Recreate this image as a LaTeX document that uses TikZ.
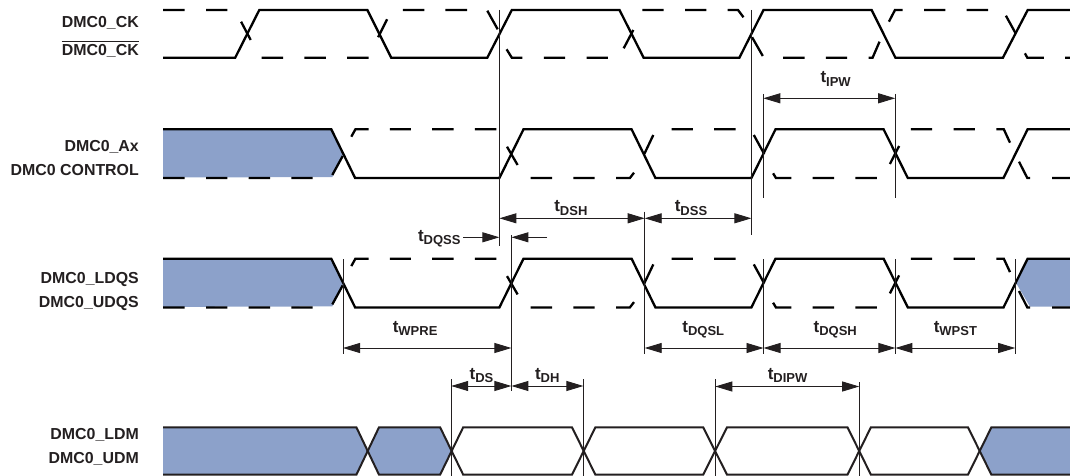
\documentclass[tikz,border=0pt]{standalone}
\usepackage{fontspec}
\setmainfont{Liberation Sans}
\usetikzlibrary{arrows.meta}
\definecolor{ink}{HTML}{231F20}
\definecolor{sigblue}{HTML}{8CA1CA}
\tikzset{
  sig/.style={line width=2.3pt,draw=black,line join=miter},
  dmsig/.style={line width=2pt,draw=ink,line join=miter},
  blue fill/.style={fill=sigblue,draw=none},
  tickline/.style={line width=0.9pt,draw=ink},
  dimline/.style={line width=0.9pt,draw=ink,{Triangle[length=17pt,width=10pt,fill=ink]}-{Triangle[length=17pt,width=10pt,fill=ink]}},
  oneway/.style={line width=0.9pt,draw=ink,-{Triangle[length=17pt,width=10pt,fill=ink]}},
  siglabel/.style={anchor=base east,inner sep=0pt,text=ink,font=\fontsize{15.9}{18}\selectfont\bfseries},
  timelabel/.style={anchor=base west,inner sep=0pt,text=ink,font=\bfseries},
}
\newcommand{\tlab}[1]{{\fontsize{17}{17}\selectfont t}\raisebox{-3.6pt}{\fontsize{13}{13}\selectfont #1}}
\newcommand{\tickat}[4]{\coordinate (#1-a) at (#2,#3);\coordinate (#1-b) at (#2,#4);\draw[tickline] (#1-a) -- (#1-b);}
\newcommand{\dimspan}[4]{\coordinate (#1-l) at (#2,#4);\coordinate (#1-r) at (#3,#4);\draw[dimline] (#1-l) -- (#1-r);}
% the solid and dashed traces shared by the two lower waveforms (top 129.3, bottom 178)
\newcommand{\dataRow}{%
  \draw[sig] (163,129.3) -- (331.3,129.3) -- (355.1,178) -- (499.4,178) -- (523.5,129.3) -- (631.6,129.3) -- (655.4,178) -- (751.4,178) -- (775.5,129.3) -- (883.6,129.3) -- (907.8,178) -- (1003.5,178) -- (1027.6,129.3) -- (1070,129.3);
  \draw[sig] (163,178) -- (184.6,178) (206,178) -- (227.3,178) (248.7,178) -- (270,178) (291.3,178) -- (312.7,178)
    (332.3,175) -- (342.7,156)
    (351.3,136.7) -- (355.4,129.3) -- (368.5,129.3) (389.9,129.3) -- (410.9,129.3) (432.2,129.3) -- (453.6,129.3) (474.9,129.3) -- (496.3,129.3)
    (507,146.7) -- (517.6,165)
    (530.7,178) -- (552,178) (573.4,178) -- (594.7,178) (616.1,178) -- (629.9,178) -- (634,172.7)
    (644.3,154) -- (653.3,135)
    (671.5,129.3) -- (692.9,129.3) (714.2,129.3) -- (735.6,129.3)
    (753.8,135) -- (764.2,154)
    (773.1,173.3) -- (775.9,178) -- (791.4,178) (812.7,178) -- (834.1,178) (855.4,178) -- (876.8,178)
    (889.9,164) -- (899.1,146)
    (910.9,129.3) -- (932.2,129.3) (953.6,129.3) -- (974.9,129.3) (996.3,129.3) -- (1003.8,129.3) -- (1010,142.7)
    (1019,161.7) -- (1027.3,178) -- (1030,178) (1052,178) -- (1070,178);
}
\begin{document}
\begin{tikzpicture}[x=1pt,y=-1pt]
\useasboundingbox (0,0) rectangle (1070,476);

% blue fills
\fill[blue fill] (163,129.3) -- (331.3,129.3) -- (343,155) -- (332.3,177) -- (163,177.5) -- cycle;
\fill[blue fill] (163,258.7) -- (331.3,258.7) -- (343,284.5) -- (332.3,306.4) -- (163,306.9) -- cycle;
\fill[blue fill] (1070,258.7) -- (1027.6,258.7) -- (1015.5,282) -- (1030,306.7) -- (1070,306.7) -- cycle;
\fill[blue fill] (163,427.3) -- (356.4,427.3) -- (367.7,451) -- (356.4,474.7) -- (163,474.7) -- cycle;
\fill[blue fill] (367.7,451) -- (379,427.3) -- (440.1,427.3) -- (451.6,451) -- (440.1,474.7) -- (379,474.7) -- cycle;
\fill[blue fill] (979.7,451) -- (991.4,427.3) -- (1070,427.3) -- (1070,474.7) -- (991.4,474.7) -- cycle;

% clock
\draw[sig] (163,57.7) -- (235.2,57.7) -- (259.3,10) -- (367.4,10) -- (391.2,57.7) -- (487.3,57.7) -- (511.8,10) -- (619.5,10) -- (643.6,57.7) -- (739.4,57.7) -- (763.5,10) -- (871.6,10) -- (895.4,57.7) -- (1002.9,57.7) -- (1027.7,10) -- (1070,10);
\draw[sig] (163,10) -- (184.6,10) (206,10) -- (227.3,10)
  (241.1,21.7) -- (250.7,40)
  (261.7,57.7) -- (283.1,57.7) (304.4,57.7) -- (325.8,57.7) (347.2,57.7) -- (368.5,57.7)
  (387.1,19.3) -- (378.1,37.3)
  (402.9,10) -- (424.3,10) (445.3,10) -- (467,10)
  (487.3,10.7) -- (497.7,29.3)
  (506.6,49.3) -- (511.8,57.7) -- (522.4,57.7)
  (543.8,57.7) -- (565.1,57.7) (586.5,57.7) -- (607.8,57.7)
  (623.7,48.3) -- (633.3,30)
  (642.3,10) -- (663.6,10) (685,10) -- (706.3,10) (727.7,10) -- (738,10) -- (743.5,17.3)
  (752.1,37.3) -- (762.8,56)
  (783.1,57.7) -- (804.5,57.7) (825.8,57.7) -- (847.2,57.7) (868.5,57.7) -- (872.6,57.7) -- (879.5,41.7)
  (888.9,21.7) -- (895,10) -- (902.6,10) (924,10) -- (945.3,10) (966.7,10) -- (988,10)
  (1005.9,15.7) -- (1015.6,33.3)
  (1024.9,53.3) -- (1027.3,57.7) -- (1043.8,57.7) (1065.2,57.7) -- (1070,57.7);

% address / control and strobe
\dataRow
\begin{scope}[yshift=-129.4pt]
\dataRow
\end{scope}

% data mask
\draw[dmsig] (163,427.3) -- (356.4,427.3) -- (379,474.7) -- (440.1,474.7) -- (463.2,427.3) -- (572,427.3) -- (595.4,474.7) -- (703.2,474.7) -- (727,427.3) -- (847.5,427.3) -- (870.9,474.7) -- (968,474.7) -- (991.4,427.3) -- (1070,427.3);
\draw[dmsig] (163,474.7) -- (356.4,474.7) -- (379,427.3) -- (440.1,427.3) -- (463.2,474.7) -- (572,474.7) -- (595.4,427.3) -- (703.2,427.3) -- (727,474.7) -- (847.5,474.7) -- (870.9,427.3) -- (968,427.3) -- (991.4,474.7) -- (1070,474.7);

% extension lines
\tickat{v1}{499.4}{10}{246}
\tickat{v2}{751.4}{10}{235}
\tickat{v3}{763.3}{94}{198}
\tickat{v4}{895.2}{94}{198}
\tickat{v5}{644.7}{211.7}{354.3}
\tickat{v6}{511.4}{235}{391}
\tickat{v7}{343}{259.3}{354.3}
\tickat{v8}{763.5}{259}{354.3}
\tickat{v9}{895.4}{259}{354.3}
\tickat{v10}{1015.2}{259}{354.3}
\tickat{v11}{451.2}{379.3}{476}
\tickat{v12}{583.4}{379.3}{476}
\tickat{v13}{715.3}{379.3}{476}
\tickat{v14}{859.2}{382}{476}

% dimension arrows
\dimspan{ipw}{763.3}{895.2}{98.3}
\dimspan{dsh}{499.4}{644.7}{218.3}
\dimspan{dss}{644.7}{751.4}{218.3}
\dimspan{wpre}{343}{511.4}{348}
\dimspan{dqsl}{644.7}{763.5}{348}
\dimspan{dqsh}{763.5}{895.4}{348}
\dimspan{wpst}{895.4}{1015.2}{348}
\dimspan{ds}{451.2}{511.4}{386}
\dimspan{dh}{511.4}{583.4}{386}
\dimspan{dipw}{715.3}{859.2}{386.5}
\coordinate (dqss-from) at (463.2,237.3);
\coordinate (dqss-to) at (499.4,237.3);
\coordinate (dqss-back) at (547.2,237.3);
\coordinate (dqss-end) at (511.4,237.3);
\draw[oneway] (dqss-from) -- (dqss-to);
\draw[oneway] (dqss-back) -- (dqss-end);

% timing labels
\node[timelabel] (lipw) at (820.3,82.7) {\tlab{IPW}};
\node[timelabel] (ldsh) at (554.1,211.7) {\tlab{DSH}};
\node[timelabel] (ldss) at (674.6,211.7) {\tlab{DSS}};
\node[timelabel] (ldqss) at (417.8,241) {\tlab{DQSS}};
\node[timelabel] (lwpre) at (392.6,332) {\tlab{WPRE}};
\node[timelabel] (ldqsl) at (682.2,332) {\tlab{DQSL}};
\node[timelabel] (ldqsh) at (813.4,332) {\tlab{DQSH}};
\node[timelabel] (lwpst) at (933.6,332) {\tlab{WPST}};
\node[timelabel] (lds) at (469.4,379.3) {\tlab{DS}};
\node[timelabel] (ldh) at (534.8,379.3) {\tlab{DH}};
\node[timelabel] (ldipw) at (767.6,379.3) {\tlab{DIPW}};

% signal names
\node[siglabel] (ck) at (139,27.3) {DMC0\_CK};
\node[siglabel] (ckn) at (139,55.5) {DMC0\_CK};
\draw[line width=0.9pt,draw=ink] (ckn.north west |- 0,41.7) -- (ckn.north east |- 0,41.7);
\node[siglabel] (ax) at (139,151.3) {DMC0\_Ax};
\node[siglabel] (ctl) at (139,175.3) {DMC0 CONTROL};
\node[siglabel] (ldqs) at (139,283.3) {DMC0\_LDQS};
\node[siglabel] (udqs) at (139,307.3) {DMC0\_UDQS};
\node[siglabel] (ldm) at (139,439.3) {DMC0\_LDM};
\node[siglabel] (udm) at (139,463.3) {DMC0\_UDM};
\end{tikzpicture}
\end{document}
